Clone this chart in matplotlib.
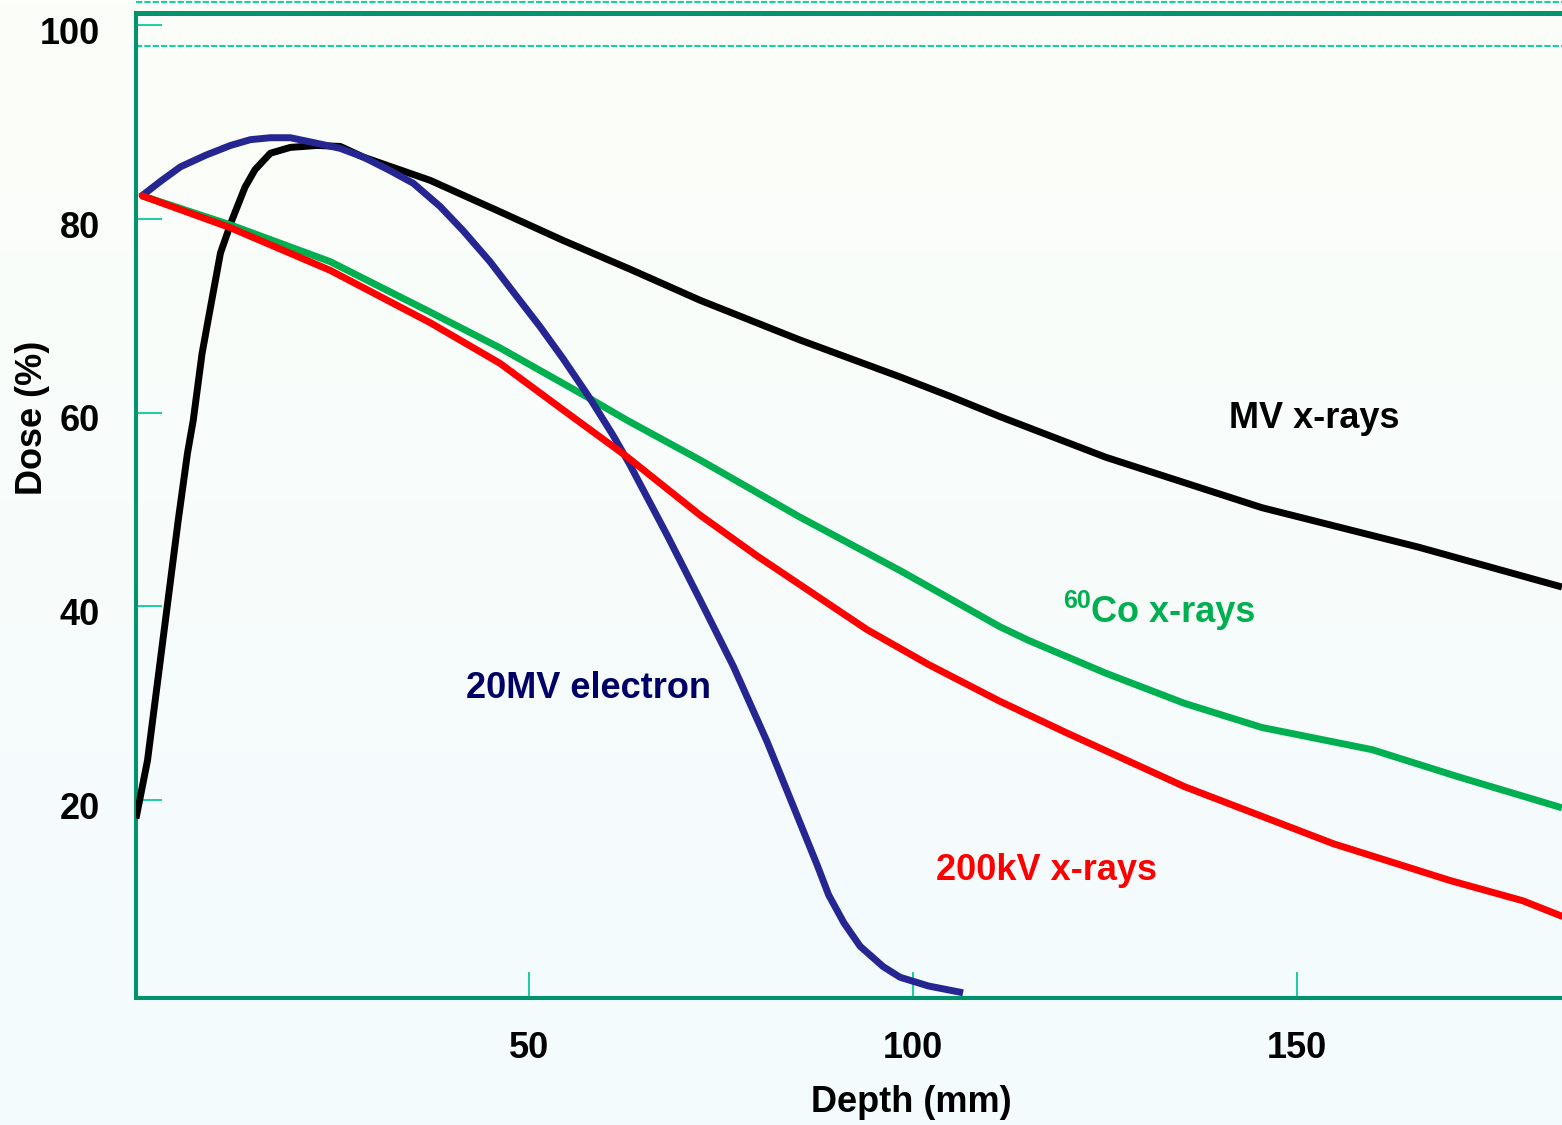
import matplotlib
matplotlib.use("Agg")
import matplotlib.pyplot as plt
import matplotlib.transforms as mtransforms
import numpy as np

# depth (mm) / dose (%)
mv_depth = [-1.2, 0.3, 4.3, 5.5, 6.25, 7.4, 8.2, 9.8, 11.3, 13.0, 14.3, 16.3, 18.9,
            22.4, 25.4, 28.4, 37.1, 45.8, 54.4, 63.2, 72.3, 85.3, 98.3, 104.8,
            111.3, 125.1, 145.4, 165.9, 184.5]
mv_dose = [18.1, 24.1, 48.9, 55.8, 59.2, 66.1, 69.6, 76.5, 79.9, 83.3, 85.1, 86.8, 87.4,
           87.6, 87.5, 86.4, 84.0, 80.9, 77.8, 74.8, 71.6, 67.5, 63.7, 61.7,
           59.6, 55.4, 50.2, 46.1, 42.0]

co_depth = [-0.4, 11.1, 24.1, 37.1, 46.2, 57.6, 62.8, 72.3, 85.3, 98.3, 111.3,
            115.0, 125.1, 135.3, 145.4, 159.8, 171.0, 184.5]
co_dose = [82.4, 79.4, 75.6, 70.4, 66.7, 61.6, 59.2, 55.1, 49.2, 43.7, 37.9,
           36.5, 33.1, 30.0, 27.5, 25.2, 22.4, 19.2]

kv_depth = [-0.4, 11.1, 24.1, 37.1, 46.2, 54.4, 62.5, 72.3, 79.7, 94.0, 102.0,
            111.3, 120.1, 135.3, 154.7, 169.9, 179.4, 184.5]
kv_dose = [82.4, 79.1, 74.7, 69.3, 65.1, 60.3, 55.6, 49.4, 45.2, 37.6, 34.0,
           30.2, 26.9, 21.4, 15.5, 11.7, 9.6, 8.0]

el_depth = [-0.6, 2.0, 4.6, 7.9, 11.1, 13.7, 16.3, 18.9, 21.9, 25.4, 28.4, 31.9,
            34.9, 38.4, 41.4, 44.9, 47.9, 51.4, 54.4, 57.9, 60.9, 63.0, 68.0,
            72.3, 76.6, 81.0, 85.3, 87.5, 89.0, 91.0, 93.1, 96.1, 98.3, 102.0, 106.5]
el_dose = [82.3, 83.9, 85.4, 86.6, 87.6, 88.2, 88.4, 88.4, 87.9, 87.3, 86.4, 85.0,
           83.7, 81.3, 78.8, 75.6, 72.5, 68.9, 65.6, 61.5, 57.7, 54.8, 47.3,
           40.6, 33.8, 26.0, 17.6, 13.3, 10.2, 7.3, 4.9, 2.8, 1.7, 0.8, 0.1]

x_ticks = [50, 100, 150]
y_ticks = [20, 40, 60, 80, 100]

SPINE = "#00936E"
TICK = "#19CFA0"
FONT = "Liberation Sans"


def main() -> None:
    fig = plt.figure(figsize=(15.62, 11.25), dpi=100)

    # soft vertical background gradient
    bg = fig.add_axes([0, 0, 1, 1], zorder=-10)
    top = np.array([252, 254, 248]) / 255
    bot = np.array([243, 251, 254]) / 255
    t = np.linspace(0, 1, 256)[:, None, None]
    grad = top * (1 - t) + bot * t
    bg.imshow(grad, aspect="auto", extent=[0, 1, 0, 1])
    bg.axis("off")

    ax = fig.add_axes([136 / 1562, 127 / 1125, 1 - 136 / 1562, 985 / 1125])
    ax.set_facecolor("none")
    ax.set_xlim(-1.2, 184.5)
    ax.set_ylim(-0.44, 101.28)

    kw = dict(lw=5, solid_joinstyle="round")
    ax.plot(mv_depth, mv_dose, color="black", zorder=3, solid_capstyle="butt", **kw)
    ax.plot(co_depth, co_dose, color="#00B050", zorder=4, solid_capstyle="butt", **kw)
    ax.plot(el_depth, el_dose, color="#262692", zorder=5, solid_capstyle="butt", **kw)
    ax.plot(kv_depth, kv_dose, color="#FF0000", zorder=6, solid_capstyle="round", **kw)

    # dashed guide lines near the top
    ax.axhline(97.9, color=TICK, lw=1.5, dashes=(3, 1), zorder=1)
    ax.axhline(102.4, color=TICK, lw=1.5, dashes=(3, 1), zorder=1, clip_on=False)

    for side in ["left", "bottom"]:
        ax.spines[side].set_color(SPINE)
        ax.spines[side].set_linewidth(2.9)
    ax.spines["top"].set_color(SPINE)
    ax.spines["top"].set_linewidth(3.6)
    ax.spines["right"].set_visible(False)

    ax.set_xticks(x_ticks)
    ax.set_yticks(y_ticks)
    ax.tick_params(direction="in", length=19, width=1.4, color=TICK,
                   labelsize=26, labelcolor="black")
    ax.tick_params(axis="y", pad=26)
    ax.tick_params(axis="x", pad=24)
    shift = mtransforms.ScaledTranslation(0, -5 / 100, fig.dpi_scale_trans)
    for lab in ax.get_yticklabels():
        lab.set_transform(lab.get_transform() + shift)
    for lab in ax.get_xticklabels() + ax.get_yticklabels():
        lab.set_fontfamily(FONT)
        lab.set_fontweight("bold")

    ax.set_xlabel("Depth (mm)", fontsize=26, fontweight="bold", family=FONT)
    ax.xaxis.set_label_coords(0.544, -0.088)
    ax.set_ylabel("Dose (%)", fontsize=26, fontweight="bold", family=FONT)
    ax.yaxis.set_label_coords(-0.060, 0.589)

    txt = dict(fontsize=26, fontweight="bold", family=FONT, va="baseline")
    ax.text(141.1, 58.4, "MV x-rays", color="black", ha="left", **txt)
    ax.text(123.1, 39.8, "60", color="#00B050", ha="right", va="baseline",
            fontsize=18, fontweight="bold", family=FONT)
    ax.text(123.1, 38.4, "Co x-rays", color="#00B050", ha="left", **txt)
    ax.text(41.8, 30.5, "20MV electron", color="#000066", ha="left", **txt)
    ax.text(103.0, 11.7, "200kV x-rays", color="#FF0000", ha="left", **txt)

    fig.savefig("out.png", dpi=100)
    plt.close(fig)


if __name__ == "__main__":
    main()
